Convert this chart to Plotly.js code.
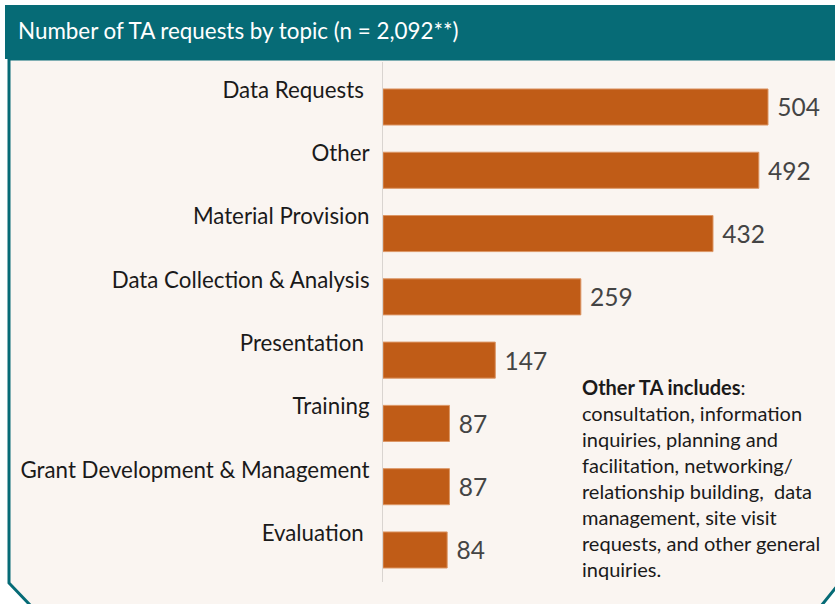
<!DOCTYPE html>
<html>
<head>
<meta charset="utf-8">
<script src="https://cdn.plot.ly/plotly-3.0.1.min.js"></script>
<style>
  html, body { margin: 0; padding: 0; background: #ffffff; }
  #chart { width: 835px; height: 604px; }
</style>
</head>
<body>
<div id="chart"></div>
<script>
// ---- data ----
const categories = ["Data Requests", "Other", "Material Provision", "Data Collection & Analysis",
                    "Presentation", "Training", "Grant Development & Management", "Evaluation"];
const tickLabels = ["Data Requests\u00a0", "Other", "Material Provision", "Data Collection & Analysis",
                    "Presentation\u00a0", "Training", "Grant Development & Management", "Evaluation\u00a0"];
const requests = [504, 492, 432, 259, 147, 87, 87, 84];
const chartTitle = "Number of TA requests by topic (n = 2,092**)";
const noteLines = [
  "<b>Other TA includes</b>:",
  "consultation, information",
  "inquiries, planning and",
  "facilitation, networking/",
  "relationship building,\u00a0 data",
  "management, site visit",
  "requests, and other general",
  "inquiries."
];

// ---- geometry helpers (pixel -> paper) ----
const W = 835, H = 604;
const M = { l: 383, r: 0, t: 62, b: 22 };
const PW = W - M.l - M.r, PH = H - M.t - M.b;
const px = x => (x - M.l) / PW;
const py = y => (H - M.b - y) / PH;

const TEAL = "#066b76";
const BG = "#faf5f1";
const FONT = "Lato, 'Open Sans', sans-serif";

const trace = {
  type: "bar",
  orientation: "h",
  y: categories,
  x: requests,
  marker: { color: "#c05c17", line: { color: "#dc9665", width: 1 } },
  text: requests.map(v => "\u00a0" + v),
  textposition: "outside",
  textfont: { family: FONT, size: 24.5, color: "#444444" },
  cliponaxis: false,
  hoverinfo: "x+y"
};

const panelPath = `M ${px(9)},${py(59)} L ${px(9)},${py(583)} L ${px(31)},${py(606)} L ${px(821)},${py(606)} L ${px(838)},${py(585)} L ${px(838)},${py(59)} Z`;

const layout = {
  width: W, height: H,
  margin: M,
  paper_bgcolor: "#ffffff",
  plot_bgcolor: "rgba(0,0,0,0)",
  font: { family: FONT, color: "#222222" },
  showlegend: false,
  bargap: 0.43,
  title: {
    text: chartTitle,
    font: { family: FONT, size: 22.4, color: "#ffffff" },
    x: 18 / W, xref: "container", xanchor: "left",
    y: 1 - 31 / H, yref: "container", yanchor: "middle"
  },
  xaxis: {
    range: [0, PW / (385 / 504)],
    showgrid: false, zeroline: false, showticklabels: false, showline: false, fixedrange: true
  },
  yaxis: {
    type: "category",
    range: [7.506, -0.711],
    tickmode: "array",
    tickvals: categories,
    ticktext: tickLabels,
    tickfont: { family: FONT, size: 22.3, color: "#1a1a1a" },
    ticklabelshift: 17,
    ticklabelstandoff: 8,
    ticks: "",
    showgrid: false, zeroline: false,
    showline: true, linecolor: "#d9d4d0", linewidth: 1,
    fixedrange: true
  },
  shapes: [
    { type: "path", xref: "paper", yref: "paper", path: panelPath,
      fillcolor: BG, line: { color: TEAL, width: 3 }, layer: "below" },
    { type: "rect", xref: "paper", yref: "paper",
      x0: px(5), x1: px(840), y0: py(59), y1: py(5),
      fillcolor: TEAL, line: { width: 0 }, layer: "below" }
  ],
  annotations: [
    { xref: "paper", yref: "paper", x: px(580), y: py(373),
      xanchor: "left", yanchor: "top", align: "left", showarrow: false,
      text: noteLines.join("<br>"),
      font: { family: FONT, size: 20, color: "#1a1a1a" } }
  ]
};

Plotly.newPlot("chart", [trace], layout, { displayModeBar: false, staticPlot: true });
</script>
</body>
</html>
